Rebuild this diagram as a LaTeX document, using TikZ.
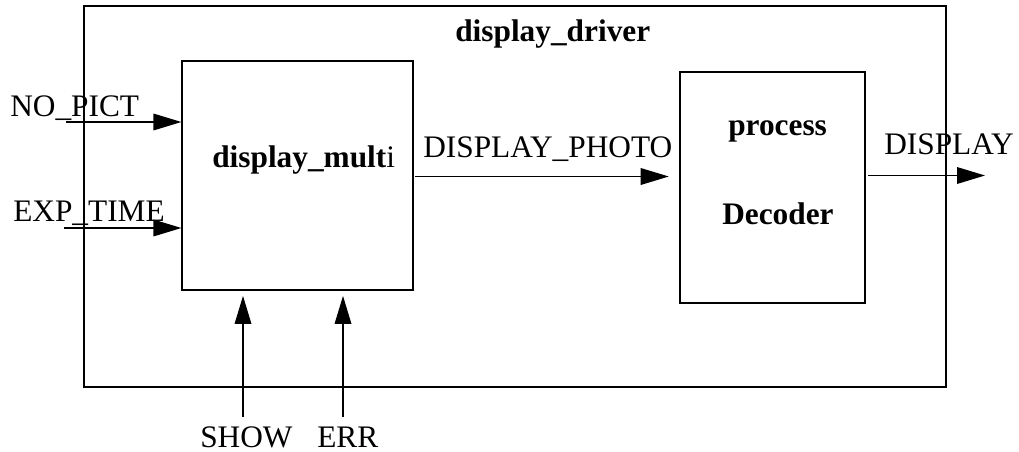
\documentclass[tikz,border=0pt]{standalone}
\usepackage{fontspec}
\setmainfont{Liberation Serif}
\usetikzlibrary{arrows.meta}
\begin{document}
\begin{tikzpicture}[x=0.75pt,y=-0.75pt,
  box/.style={draw,line width=0.9pt,inner sep=0pt},
  arr/.style={line width=0.9pt,-{Triangle[length=21pt,width=12.5pt]}},
  lab/.style={anchor=base west,inner sep=0pt,font=\fontsize{23.5}{28}\selectfont},
  blab/.style={lab,font=\fontsize{23.5}{28}\selectfont\bfseries}]
\useasboundingbox (0,0) rectangle (1019,452);
\node[box,minimum width=646.5pt,minimum height=285.75pt] (outer) at (515,196.5) {};
\node[box,minimum width=173.25pt,minimum height=171.75pt] (multi) at (297.5,175.5) {};
\node[box,minimum width=138.75pt,minimum height=173.25pt] (dec) at (772.5,187.5) {};
\node[blab] (tdrv) at (455,42) {display\_driver};
\node[lab] (tmulti) at (212,168) {\textbf{display\_mult}i};
\node[blab] (tproc) at (728,136) {process};
\node[blab] (tdec) at (722,224) {Decoder};
\node[lab] (tnp) at (10,117) {NO\_PICT};
\node[lab] (tet) at (13,221) {EXP\_TIME};
\node[lab] (tdp) at (423,158) {DISPLAY\_PHOTO};
\node[lab] (tdi) at (884,155) {DISPLAY};
\node[lab] (tsh) at (200,447) {SHOW};
\node[lab] (ter) at (317,447) {ERR};
\coordinate (np) at (66,122);
\coordinate (et) at (64,228);
\coordinate (sh) at (243,417);
\coordinate (er) at (343,417);
\coordinate (dpo) at (415,176.5);
\coordinate (dio) at (868,175.5);
\coordinate (dix) at (985,175.5);
\draw[arr] (np) -- (np -| multi.west);
\draw[arr] (et) -- (et -| multi.west);
\draw[arr,shorten >=4pt] (sh) -- (sh |- multi.south);
\draw[arr,shorten >=4pt] (er) -- (er |- multi.south);
\draw[arr,shorten >=8pt] (dpo) -- (dpo -| dec.west);
\draw[arr] (dio) -- (dix);
\end{tikzpicture}
\end{document}
